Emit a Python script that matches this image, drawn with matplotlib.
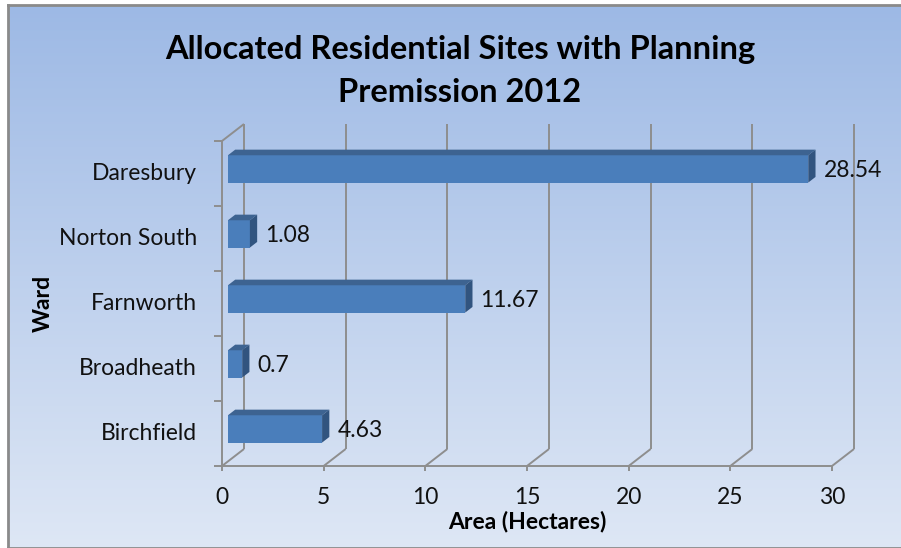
import numpy as np
import matplotlib.pyplot as plt
from matplotlib.patches import Polygon
from matplotlib.transforms import Affine2D, IdentityTransform

# ward areas with planning permission, bottom to top
wards = ["Birchfield", "Broadheath", "Farnworth", "Norton South", "Daresbury"]
areas = [4.63, 0.7, 11.67, 1.08, 28.54]
xticks = [0, 5, 10, 15, 20, 25, 30]

W, H = 901, 548
DX, DY = 22, 17          # pixel shift of the back wall
D1, D2 = 0.27, 0.6       # depth range of the bars
BAR_H = 0.42

FRONT = "#4a7ebb"
TOP = "#3d6391"
SIDE = "#31547f"
GRID = "#8e8e8e"
FONT = "Lato"
LABEL_SIZE = 16.5

plt.rcParams["font.family"] = [FONT, "DejaVu Sans"]

fig = plt.figure(figsize=(W / 100, H / 100), dpi=100)

# gradient chart area with grey frame
bg = fig.add_axes([8 / W, 0, 1 - 8 / W, (H - 5) / H])
grad = np.linspace(0, 1, 256)[:, None]
top_c = np.array([157, 185, 229]) / 255
bot_c = np.array([222, 231, 245]) / 255
img = top_c[None, None, :] * (1 - grad[:, :, None]) + bot_c[None, None, :] * grad[:, :, None]
bg.imshow(img, aspect="auto", extent=[0, 1, 0, 1])
bg.set_xticks([])
bg.set_yticks([])
for s in bg.spines.values():
    s.set_color("#8a8a8a")
    s.set_linewidth(2)
bg.spines["right"].set_visible(False)

ax = fig.add_axes([222 / W, (H - 466) / H, (832 - 222) / W, (466 - 141) / H])
ax.set_xlim(0, 30)
ax.set_ylim(-0.5, len(wards) - 0.5)
ax.axis("off")
ax.patch.set_visible(False)

ymin, ymax = -0.5, len(wards) - 0.5


def px(x, y, d=0.0, ox=0.0, oy=0.0):
    p = ax.transData.transform((x, y))
    return (p[0] + DX * d + ox, p[1] + DY * d + oy)


def seg(a, b, **kw):
    ax.plot([a[0], b[0]], [a[1], b[1]], transform=IdentityTransform(),
            color=GRID, lw=1.4, solid_capstyle="butt", clip_on=False, **kw)


# back wall gridlines
for t in xticks:
    seg(px(t, ymin, 1), px(t, ymax, 1))

# floor: front edge, ticks and depth lines
seg(px(0, ymin), px(30, ymin))
for t in xticks:
    seg(px(t, ymin), px(t, ymin, oy=-5))
    seg(px(t, ymin), px(t, ymin, 1))

# left wall
seg(px(0, ymin), px(0, ymax))
seg(px(0, ymax), px(0, ymax, 1))
for k in range(len(wards) + 1):
    yb = k - 0.5
    seg(px(0, yb), px(0, yb, ox=-8))

# bars: front face through barh, top and side faces as polygons
ypos = np.arange(len(wards))
shift = ax.transData + Affine2D().translate(DX * D1, DY * D1)
ax.barh(ypos, areas, height=BAR_H, color=FRONT, transform=shift, zorder=3)
for y, v in zip(ypos, areas):
    yt, yb = y + BAR_H / 2, y - BAR_H / 2
    top = [px(0, yt, D1), px(v, yt, D1), px(v, yt, D2), px(0, yt, D2)]
    side = [px(v, yb, D1), px(v, yt, D1), px(v, yt, D2), px(v, yb, D2)]
    ax.add_patch(Polygon(top, closed=True, facecolor=TOP, edgecolor="none",
                         transform=IdentityTransform(), zorder=3))
    ax.add_patch(Polygon(side, closed=True, facecolor=SIDE, edgecolor="none",
                         transform=IdentityTransform(), zorder=3))
    ax.annotate(f"{v:g}", (v, y), xytext=(DX * D2 + 8, 3), textcoords="offset pixels",
                ha="left", va="center", fontsize=LABEL_SIZE, color="#111111", zorder=4)

# category labels
for y, name in zip(ypos, wards):
    ax.annotate(name, (0, y), xytext=(-25, 0), textcoords="offset pixels",
                ha="right", va="center", fontsize=LABEL_SIZE, color="#111111")

# value axis labels
for t in xticks:
    ax.annotate(str(t), (t, ymin), xytext=(0, -31), textcoords="offset pixels",
                ha="center", va="center", fontsize=LABEL_SIZE, color="#111111")

fig.text(527 / W, 1 - 521 / H, "Area (Hectares)", ha="center", va="center",
         fontsize=16.5, fontweight="bold")
fig.text(43 / W, 1 - 303 / H, "Ward", ha="center", va="center", rotation=90,
         fontsize=16.5, fontweight="bold")
fig.text(460 / W, 1 - 71 / H, "Allocated Residential Sites with Planning\nPremission 2012",
         ha="center", va="center", fontsize=23.5, fontweight="bold", linespacing=1.6)

fig.savefig("out.png", dpi=100)
